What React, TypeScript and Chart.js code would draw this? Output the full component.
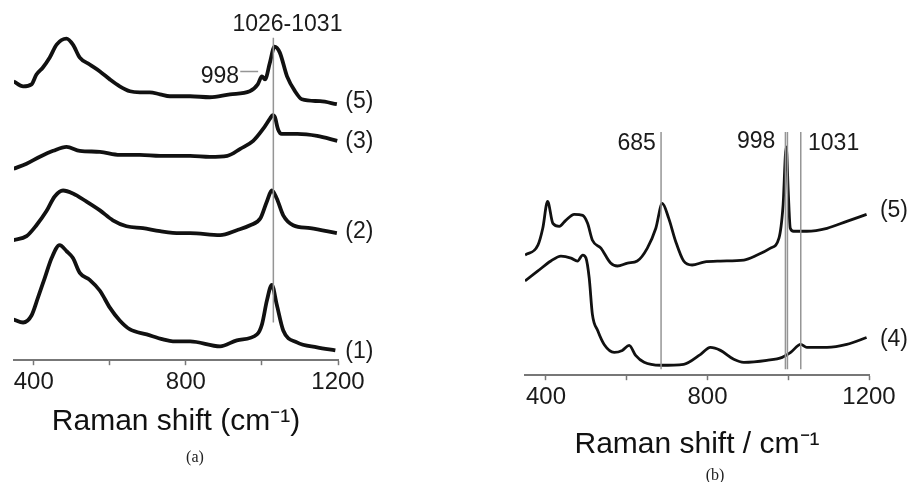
import React, { useEffect, useRef } from "react";
import { Chart, registerables } from "chart.js";

Chart.register(...registerables);

// ---------- Panel (a) ----------
const shiftA5 = [347, 372, 394, 407, 424, 442, 460, 486, 503, 521, 547, 574, 600, 626, 653, 679, 705, 732, 758, 784, 811, 863, 916, 968, 989, 1000, 1008, 1021, 1033, 1047, 1066, 1087, 1105, 1153, 1197];
const intA5 = [281, 276, 278, 288, 295, 305, 318, 324, 318, 305, 298, 291, 283, 276, 271, 270, 270, 268, 266, 266, 266, 265, 268, 271, 278, 286, 283, 300, 316, 310, 286, 271, 263, 261, 258];

const shiftA3 = [347, 381, 416, 451, 486, 521, 574, 626, 679, 732, 784, 811, 863, 909, 943, 977, 1003, 1022, 1028, 1034, 1042, 1052, 1093, 1145, 1198];
const intA3 = [193, 198, 205, 211, 215, 211, 210, 207, 207, 206, 206, 206, 205, 206, 213, 221, 233, 244, 247, 245, 233, 228, 228, 226, 221];

const shiftA2 = [347, 381, 407, 433, 455, 477, 503, 538, 574, 608, 644, 687, 732, 784, 811, 890, 934, 969, 996, 1013, 1026, 1039, 1056, 1082, 1127, 1197];
const intA2 = [121, 125, 136, 150, 165, 171, 168, 160, 151, 141, 135, 133, 130, 128, 128, 126, 131, 136, 143, 160, 171, 163, 146, 136, 133, 128];

const shiftA1 = [347, 372, 394, 411, 429, 447, 468, 486, 503, 521, 547, 574, 600, 626, 653, 697, 740, 766, 811, 890, 934, 987, 1000, 1013, 1026, 1039, 1056, 1092, 1145, 1193];
const intA1 = [41, 38, 45, 63, 83, 103, 116, 110, 103, 88, 81, 70, 53, 40, 31, 26, 21, 19, 19, 14, 20, 26, 36, 60, 76, 56, 30, 18, 13, 10];

const markerA = 1030; // vertical guide, cm-1
const markerARange = [38, 325];
const shoulderLineA = [943, 990];
const shoulderLevelA = 291;

const labelsA = [
  { text: "1026-1031", x: 1067, y: 338, align: "center" },
  { text: "998", x: 940, y: 286, align: "right" },
  { text: "(5)", x: 1219, y: 261, align: "left" },
  { text: "(3)", x: 1219, y: 220, align: "left" },
  { text: "(2)", x: 1219, y: 130, align: "left" },
  { text: "(1)", x: 1219, y: 9, align: "left" },
];

// ---------- Panel (b) ----------
const shiftB5 = [348, 380, 392, 404, 417, 433, 449, 470, 491, 503, 515, 536, 560, 577, 602, 626, 651, 672, 688, 704, 721, 741, 762, 791, 832, 890, 923, 956, 977, 987, 995, 1000, 1005, 1013, 1046, 1096, 1145, 1194];
const intB5 = [121, 131, 148, 175, 153, 150, 156, 162, 161, 153, 136, 128, 113, 110, 113, 115, 128, 148, 173, 158, 135, 115, 111, 114, 115, 116, 121, 128, 138, 170, 230, 185, 148, 145, 145, 148, 155, 162];

const shiftB4 = [348, 380, 412, 437, 462, 478, 491, 499, 507, 515, 528, 544, 569, 589, 606, 622, 643, 684, 741, 783, 807, 832, 865, 890, 947, 985, 1006, 1031, 1046, 1096, 1145, 1194];
const intB4 = [95, 105, 115, 120, 118, 115, 121, 118, 98, 61, 45, 31, 23, 25, 30, 20, 13, 10, 11, 21, 28, 25, 16, 13, 15, 18, 23, 31, 28, 28, 31, 38];

const markersB = [685, 993, 998, 1031];
const markerBRange = [6, 245];

const labelsB = [
  { text: "685", x: 672, y: 233, align: "right" },
  { text: "998", x: 968, y: 235, align: "right" },
  { text: "1031", x: 1049, y: 233, align: "left" },
  { text: "(5)", x: 1227, y: 166, align: "left" },
  { text: "(4)", x: 1227, y: 36, align: "left" },
];

const tickValues = [400, 600, 800, 1000, 1200];
const labeledTicks = [400, 800, 1200];

const FONT = "'Liberation Sans', Arial, Helvetica, sans-serif";

const pts = (xs: number[], ys: number[]) => xs.map((x, i) => ({ x, y: ys[i] }));

const curve = (xs: number[], ys: number[], w: number) => ({
  data: pts(xs, ys),
  borderColor: "#111",
  borderWidth: w,
  pointRadius: 0,
  cubicInterpolationMode: "monotone" as const,
  fill: false,
});

const guide = (data: { x: number; y: number }[]) => ({
  data,
  borderColor: "#959595",
  borderWidth: 1.5,
  pointRadius: 0,
  tension: 0,
  fill: false,
});

const textPlugin = (labels: { text: string; x: number; y: number; align: string }[], size: number) => ({
  id: "textLabels",
  afterDatasetsDraw(chart: any) {
    const { ctx, scales } = chart;
    ctx.save();
    ctx.fillStyle = "#1a1a1a";
    ctx.font = `${size}px ${FONT}`;
    ctx.textBaseline = "middle";
    labels.forEach((l) => {
      ctx.textAlign = l.align;
      ctx.fillText(l.text, scales.x.getPixelForValue(l.x), scales.y.getPixelForValue(l.y));
    });
    ctx.restore();
  },
});

const xScale = (title: string, titlePadTop: number) => ({
  type: "linear" as const,
  min: 348,
  max: 1200,
  afterBuildTicks: (s: any) => {
    s.ticks = tickValues.map((v) => ({ value: v }));
  },
  ticks: {
    autoSkip: false,
    maxRotation: 0,
    padding: 3,
    color: "#1a1a1a",
    font: { family: FONT, size: 24 },
    callback: (v: any) => (labeledTicks.includes(Number(v)) ? String(v) : ""),
  },
  grid: {
    drawOnChartArea: false,
    drawTicks: true,
    tickLength: 5,
    tickColor: "#777",
    tickWidth: 1.5,
  },
  border: { display: true, color: "#777", width: 2 },
  title: {
    display: true,
    text: title,
    color: "#111",
    font: { family: FONT, size: 30 },
    padding: { top: titlePadTop, bottom: 4 },
  },
});

function Panel({ datasets, labels, yMax, padding, title, titlePadTop, width }: any) {
  const ref = useRef<HTMLCanvasElement | null>(null);
  useEffect(() => {
    if (!ref.current) return;
    const chart = new Chart(ref.current, {
      type: "line",
      data: { datasets },
      options: {
        animation: false,
        responsive: false,
        devicePixelRatio: 1,
        layout: { padding },
        plugins: { legend: { display: false }, tooltip: { enabled: false } },
        scales: {
          x: xScale(title, titlePadTop),
          y: { type: "linear", min: 0, max: yMax, display: false },
        },
      },
      plugins: [textPlugin(labels, 23)],
    } as any);
    return () => chart.destroy();
  }, []);
  return <canvas ref={ref} width={width} height={482} />;
}

export default function App() {
  const datasetsA = [
    guide([{ x: markerA, y: markerARange[0] }, { x: markerA, y: markerARange[1] }]),
    guide([{ x: shoulderLineA[0], y: shoulderLevelA }, { x: shoulderLineA[1], y: shoulderLevelA }]),
    curve(shiftA5, intA5, 3.8),
    curve(shiftA3, intA3, 3.8),
    curve(shiftA2, intA2, 3.8),
    curve(shiftA1, intA1, 3.8),
  ];
  const datasetsB = [
    ...markersB.map((m) => guide([{ x: m, y: markerBRange[0] }, { x: m, y: markerBRange[1] }])),
    curve(shiftB5, intB5, 2.8),
    curve(shiftB4, intB4, 2.8),
  ];
  return (
    <div style={{ position: "fixed", left: 0, top: 0, width: 908, height: 482, background: "#fff", overflow: "hidden" }}>
      <div style={{ position: "absolute", left: 0, top: 0 }}>
        <Panel
          datasets={datasetsA}
          labels={labelsA}
          yMax={363}
          padding={{ left: 14, right: 62, top: 0, bottom: 38 }}
          title="Raman shift (cm⁻¹)"
          titlePadTop={4}
          width={400}
        />
      </div>
      <div style={{ position: "absolute", left: 500, top: 0 }}>
        <Panel
          datasets={datasetsB}
          labels={labelsB}
          yMax={378}
          padding={{ left: 25, right: 39, top: 0, bottom: 15 }}
          title="Raman shift / cm⁻¹"
          titlePadTop={12}
          width={408}
        />
      </div>
      <div style={{ position: "absolute", left: 180, top: 448, width: 30, textAlign: "center", fontFamily: "'Liberation Serif', 'Times New Roman', serif", fontSize: 16, color: "#222" }}>(a)</div>
      <div style={{ position: "absolute", left: 700, top: 466, width: 30, textAlign: "center", fontFamily: "'Liberation Serif', 'Times New Roman', serif", fontSize: 16, color: "#222" }}>(b)</div>
    </div>
  );
}
